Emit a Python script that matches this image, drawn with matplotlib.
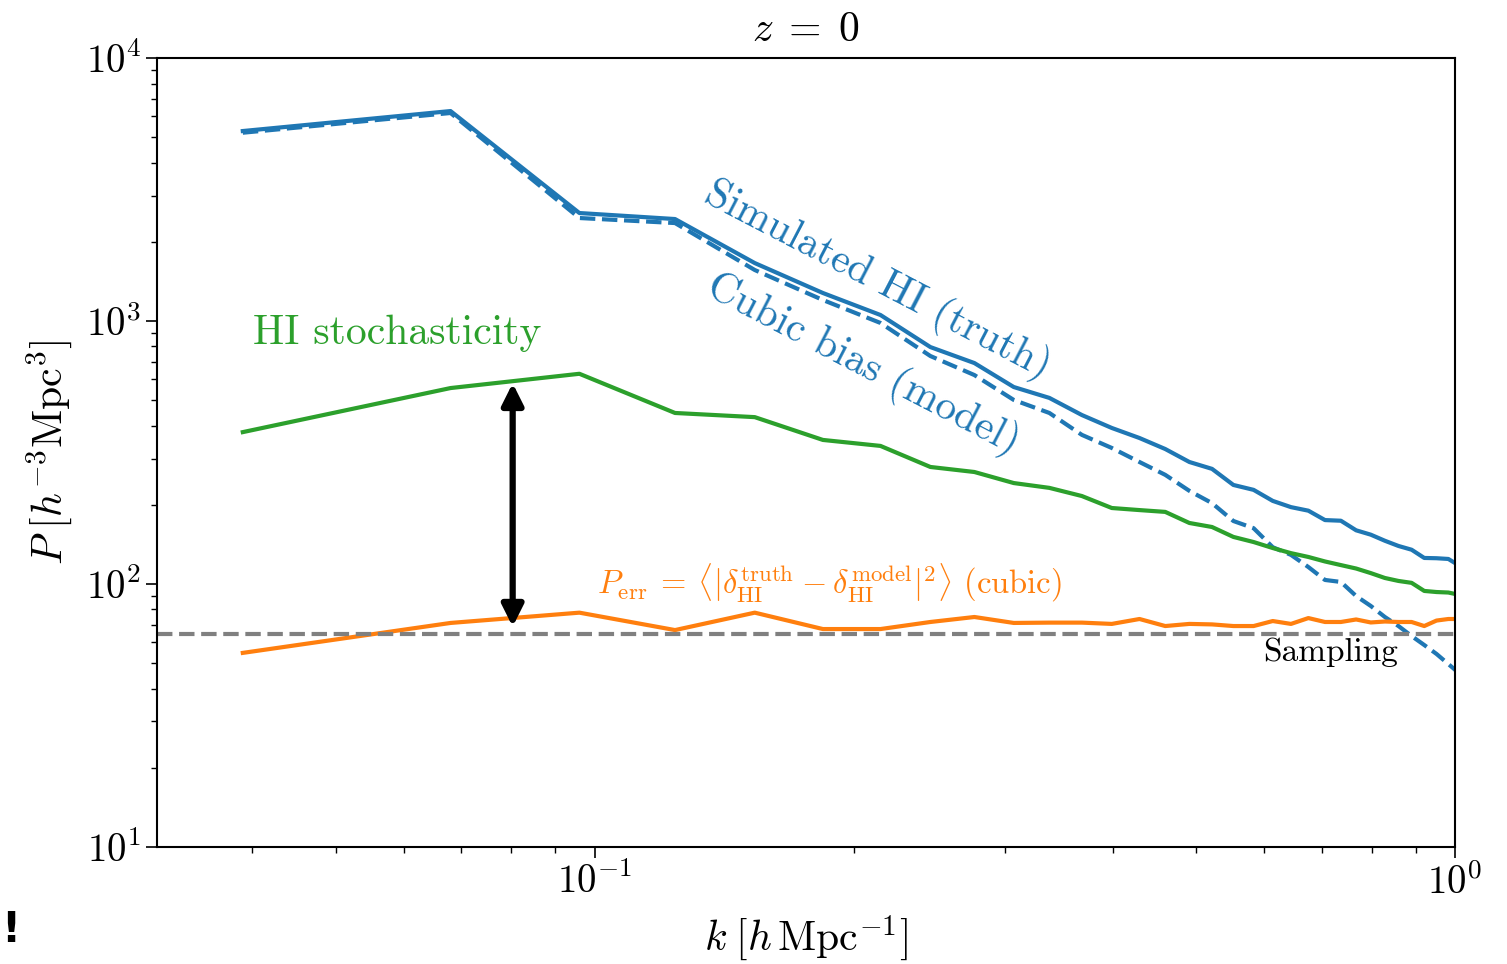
import matplotlib
matplotlib.use("Agg")
import matplotlib.pyplot as plt

plt.rcParams['font.family'] = 'serif'
plt.rcParams['font.serif'] = ['cmr10']
plt.rcParams['mathtext.fontset'] = 'cm'
plt.rcParams['axes.formatter.use_mathtext'] = True

# --- data ---
k = [0.039, 0.068, 0.096, 0.124, 0.1535, 0.1842, 0.2149, 0.2456, 0.2763,
     0.307, 0.3377, 0.3684, 0.3991, 0.4298, 0.4605, 0.4912, 0.5219, 0.5526,
     0.5833, 0.614, 0.6447, 0.6754, 0.7061, 0.7368, 0.7675, 0.7982, 0.8289,
     0.8596, 0.8903, 0.921, 0.9517, 0.9824, 1.0131]

p_truth = [5277, 6286, 2574, 2442, 1661, 1278, 1054, 796, 692, 561, 510, 439,
           392, 359, 326, 291, 274, 238, 228, 207, 196, 190, 175, 174, 160,
           154, 146, 139.5, 135, 125.6, 125.3, 124.5, 117]

p_model = [5200, 6180, 2464, 2358, 1563, 1202, 983, 736, 623, 501, 447, 369,
           329, 291, 260, 226, 203, 173.6, 163, 138, 129, 116, 103.6, 101.8,
           90, 82.5, 74.9, 69.2, 63.4, 58.6, 54.2, 49.6, 45.5]

p_stoch = [378, 556, 630, 447, 431, 353, 335, 278.6, 266.6, 242, 232, 216,
           194.5, 191, 188, 170.6, 164.7, 151, 144.4, 137, 131, 126.7, 121.8,
           118, 114.5, 110, 105.4, 102.7, 101, 94.1, 93.2, 92.8, 90.8]

p_err = [54.7, 71.1, 77.8, 66.8, 77.8, 67.4, 67.4, 71.7, 74.9, 71.1, 71.3,
         71.3, 70.5, 73.6, 69.2, 70.5, 70.2, 69.2, 69.2, 72.3, 70.5, 74.2,
         71.7, 71.7, 73.3, 71.4, 72.0, 71.7, 71.7, 69.2, 72.6, 73.6, 73.6]

p_sampling = 64.8
arrow_k = 0.0803
arrow_lo, arrow_hi = 68.8, 580

blue = '#1f77b4'
orange = '#ff7f0e'
green = '#2ca02c'

fig = plt.figure(figsize=(15.07, 9.64), dpi=100)
ax = fig.add_axes([0.1042, 0.1214, 0.8613, 0.8184])

ax.plot(k, p_truth, color=blue, lw=3)
ax.plot(k, p_model, color=blue, lw=3, ls='--')
ax.plot(k, p_stoch, color=green, lw=3)
ax.plot(k, p_err, color=orange, lw=3)
ax.axhline(p_sampling, color='gray', lw=3, ls='--')

ax.annotate('', xy=(arrow_k, arrow_lo), xytext=(arrow_k, arrow_hi),
            arrowprops=dict(arrowstyle='<|-|>', color='black', lw=4.5,
                            mutation_scale=32, shrinkA=0, shrinkB=0))

ax.set_xscale('log')
ax.set_yscale('log')
ax.set_xlim(0.031, 1.0)
ax.set_ylim(10, 1e4)

ax.text(0.0401, 900, 'HI stochasticity', color=green, fontsize=30,
        va='center', ha='left')
ax.text(0.213, 1420, 'Simulated HI (truth)', color=blue, fontsize=30,
        rotation=-27.5, rotation_mode='anchor', ha='center', va='center')
ax.text(0.205, 680, 'Cubic bias (model)', color=blue, fontsize=30,
        rotation=-27.5, rotation_mode='anchor', ha='center', va='center')
ax.text(0.1005, 101,
        r'$P_{\rm err}\:=\:\langle|\delta_{\rm HI}^{\rm truth}\:-\:'
        r'\delta_{\rm HI}^{\rm model}|^2\rangle$ (cubic)',
        color=orange, fontsize=23.5, ha='left', va='center')
ax.text(0.7175, 55.1, 'Sampling', color='black', fontsize=24,
        ha='center', va='center')

ax.set_title(r'$z\;=\;0$', fontsize=30, pad=12)
ax.set_xlabel(r'$k\;[h\,{\rm Mpc}^{-1}]$', fontsize=30, labelpad=8)
ax.set_ylabel(r'$P\;[h^{-3}{\rm Mpc}^3]$', fontsize=30, labelpad=8)
ax.tick_params(which='major', labelsize=28, length=8, width=1.2)
ax.tick_params(which='minor', length=4.5, width=1)
for s in ax.spines.values():
    s.set_linewidth(1.5)

fig.text(0.001, 0.035, '!', fontsize=30, fontweight='bold',
         family='DejaVu Sans', ha='left', va='center')

fig.savefig('out.png', dpi=100)
